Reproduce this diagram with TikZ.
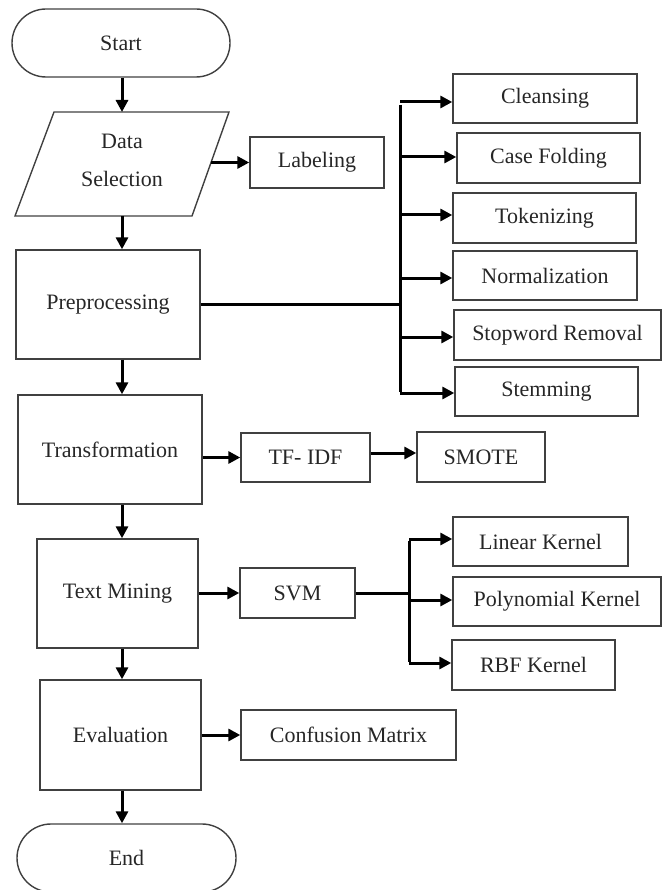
\documentclass[tikz,border=0pt]{standalone}
\usepackage{fontspec}
\setmainfont{Liberation Serif}
\usetikzlibrary{arrows.meta}
\begin{document}
\begin{tikzpicture}[x=1pt,y=-1pt,
  txt/.style={inner sep=0pt, font=\fontsize{22}{38}\selectfont, align=center, text=black!85},
  box/.style={txt, draw=black!75, line width=1.4pt},
  term/.style={box, rounded corners=34pt},
  shapeline/.style={draw=black!75, line width=1.4pt},
  arr/.style={line width=3pt, -{Triangle[length=12pt,width=12pt]}},
  ln/.style={line width=3pt},
]
\useasboundingbox (0,0) rectangle (662,890);
\coordinate (col) at (122,0);
% main column
\node[term, minimum width=218pt, minimum height=68pt] (start) at (121,43) {Start};
\draw[shapeline] (54,112) -- (229,112) -- (192,216) -- (15,216) -- cycle;
\node[txt] (ds) at (122,160) {Data\\Selection};
\coordinate (dsN) at (122,112);
\coordinate (dsS) at (122,216);
\coordinate (dsE) at (211,162.5);
\node[box, minimum width=184pt, minimum height=109pt] (pre) at (108,304.5) {Preprocessing};
\node[box, minimum width=184pt, minimum height=109pt] (tr) at (110,449.5) {Transformation};
\node[box, minimum width=161pt, minimum height=109pt] (tm) at (117.5,593.5) {Text Mining};
\node[box, minimum width=161pt, minimum height=110pt] (ev) at (120.5,735) {Evaluation};
\node[term, minimum width=219pt, minimum height=68pt] (end) at (126.5,858) {End};

\draw[arr] (start.south -| col) -- (dsN);
\draw[arr] (dsS) -- (pre.north -| col);
\draw[arr] (pre.south -| col) -- (tr.north -| col);
\draw[arr] (tr.south -| col) -- (tm.north -| col);
\draw[arr] (tm.south -| col) -- (ev.north -| col);
\draw[arr] (ev.south -| col) -- (end.north -| col);

% labeling
\node[box, minimum width=134pt, minimum height=51pt] (lab) at (317,162.5) {Labeling};
\draw[arr] (dsE) -- (lab.west);

% preprocessing steps
\node[box, minimum width=184pt, minimum height=49pt] (cl) at (545,98.5) {Cleansing};
\node[box, minimum width=183pt, minimum height=50pt] (cf) at (548.5,158) {Case Folding};
\node[box, minimum width=183pt, minimum height=50pt] (tk) at (544.5,218) {Tokenizing};
\node[box, minimum width=184pt, minimum height=49pt] (nm) at (545,275.5) {Normalization};
\node[box, minimum width=207pt, minimum height=50pt] (sw) at (557.5,335) {Stopword Removal};
\node[box, minimum width=183pt, minimum height=49pt] (st) at (546.5,391.5) {Stemming};
\coordinate (pb) at (400,304.5);
\coordinate (b1) at (400,102);
\coordinate (b2) at (400,157);
\coordinate (b3) at (400,215);
\coordinate (b4) at (400,278);
\coordinate (b5) at (400,337);
\coordinate (b6) at (400,393);
\draw[ln] (pre.east) -- (pb);
\draw[ln] ([yshift=-3pt]b1) -- ([yshift=1.5pt]b6);
\draw[arr] (b1) -- (b1 -| cl.west);
\draw[arr] (b2) -- (b2 -| cf.west);
\draw[arr] (b3) -- (b3 -| tk.west);
\draw[arr] (b4) -- (b4 -| nm.west);
\draw[arr] (b5) -- (b5 -| sw.west);
\draw[arr] (b6) -- (b6 -| st.west);

% transformation
\node[box, minimum width=129pt, minimum height=49pt] (tf) at (305.5,457.5) {TF- IDF};
\node[box, minimum width=128pt, minimum height=50pt] (sm) at (481,457) {SMOTE};
\draw[arr] (tr.east |- tf.west) -- (tf.west);
\draw[arr] (tf.east |- 0,453) -- (sm.west |- 0,453);

% text mining
\node[box, minimum width=115pt, minimum height=50pt] (svm) at (297.5,593) {SVM};
\draw[arr] (tm.east |- svm.west) -- (svm.west);
\node[box, minimum width=175pt, minimum height=49pt] (lk) at (540.5,541.5) {Linear Kernel};
\node[box, minimum width=208pt, minimum height=49pt] (pk) at (557,601.5) {Polynomial Kernel};
\node[box, minimum width=163pt, minimum height=50pt] (rk) at (533.5,665) {RBF Kernel};
\coordinate (sb) at (409,593);
\coordinate (k1) at (409,539);
\coordinate (k2) at (409,600);
\coordinate (k3) at (409,663);
\draw[ln] (svm.east) -- (sb);
\draw[ln] ([yshift=-1.5pt]k1) -- ([yshift=1.5pt]k3);
\draw[arr] (k1) -- (k1 -| lk.west);
\draw[arr] (k2) -- (k2 -| pk.west);
\draw[arr] (k3) -- (k3 -| rk.west);

% evaluation
\node[box, minimum width=215pt, minimum height=50pt] (cm) at (348.5,735) {Confusion Matrix};
\draw[arr] (ev.east |- cm.west) -- (cm.west);
\end{tikzpicture}
\end{document}
